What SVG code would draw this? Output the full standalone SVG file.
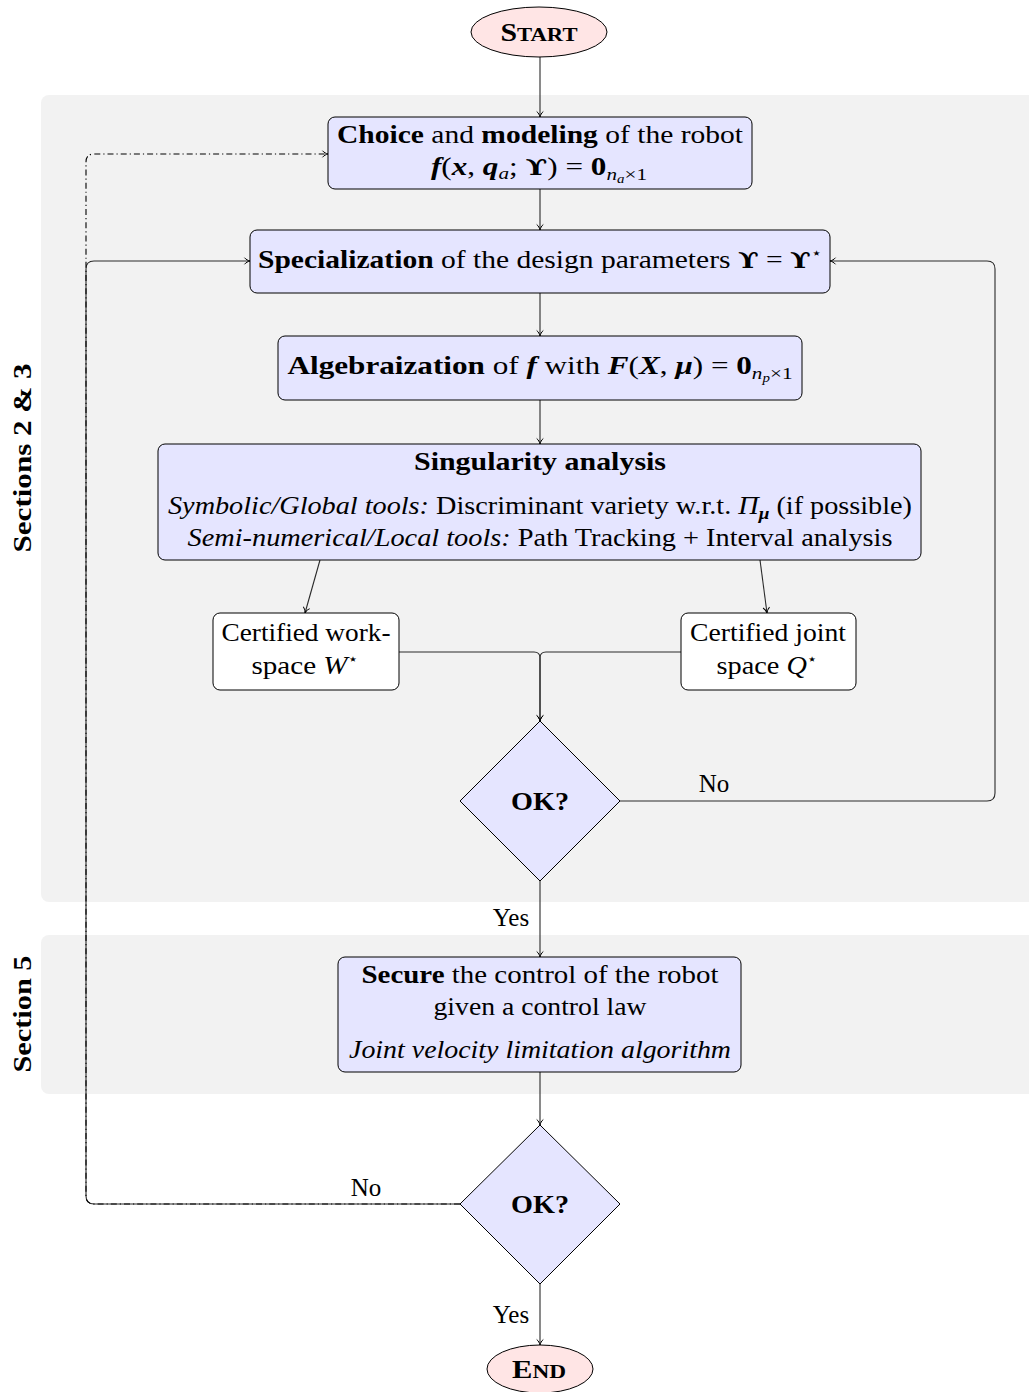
<svg xmlns="http://www.w3.org/2000/svg" width="1029" height="1392" viewBox="0 0 1029 1392">
<style>
.t{font-family:"Liberation Serif","DejaVu Serif",serif;font-size:25px;fill:#000}
.b{font-weight:bold}
.i{font-style:italic}
.bi{font-weight:bold;font-style:italic}
.ups{font-family:"DejaVu Serif",serif;font-weight:bold;font-size:23px}
.star{font-family:"DejaVu Sans",sans-serif;font-size:15px}
.box{fill:#e5e5ff;stroke:#000;stroke-width:1}
.wbox{fill:#ffffff;stroke:#000;stroke-width:1}
.term{fill:#ffe5e5;stroke:#000;stroke-width:1}
.band{fill:#f2f2f2}
.conn{fill:none;stroke:#2a2a2a;stroke-width:1.1}
.dd{fill:none;stroke:#000;stroke-width:1.1;stroke-dasharray:6 3 1.2 3}
</style>
<defs>
<marker id="ah" viewBox="-7 -5 8 10" markerWidth="8" markerHeight="10" refX="0" refY="0" orient="auto" markerUnits="userSpaceOnUse">
<path d="M-5.5,-3.3 C-4.2,-1.6 -1.8,-0.4 0,0 C-1.8,0.4 -4.2,1.6 -5.5,3.3" fill="none" stroke="#000" stroke-width="1"/>
</marker>
</defs>

<g id="bands">
<rect class="band" x="41" y="95" width="1000" height="807" rx="8"/>
<rect class="band" x="41" y="935" width="1000" height="159" rx="8"/>
<text class="t b" transform="translate(31,458) rotate(-90)" text-anchor="middle" textLength="189" lengthAdjust="spacingAndGlyphs">Sections 2 &amp; 3</text>
<text class="t b" transform="translate(31,1014) rotate(-90)" text-anchor="middle" textLength="117" lengthAdjust="spacingAndGlyphs">Section 5</text>
</g>

<g id="connectors">
<path class="conn" d="M540,57 V117" marker-end="url(#ah)"/>
<path class="conn" d="M540,189 V230" marker-end="url(#ah)"/>
<path class="conn" d="M540,293 V336" marker-end="url(#ah)"/>
<path class="conn" d="M540,400 V444" marker-end="url(#ah)"/>
<path class="conn" d="M320,560 L305,613" marker-end="url(#ah)"/>
<path class="conn" d="M760,560 L767,613" marker-end="url(#ah)"/>
<path class="conn" d="M399,652 H534 Q540,652 540,658 V721" marker-end="url(#ah)"/>
<path class="conn" d="M681,652 H546 Q540,652 540,658 V721" marker-end="url(#ah)"/>
<path class="conn" d="M620,801 H987 Q995,801 995,793 V269 Q995,261 987,261 H830" marker-end="url(#ah)"/>
<path class="conn" d="M540,881 V957" marker-end="url(#ah)"/>
<path class="conn" d="M540,1072 V1125" marker-end="url(#ah)"/>
<path class="conn" d="M460,1204 H94 Q86,1204 86,1196 V269 Q86,261 94,261 H250" marker-end="url(#ah)"/>
<path class="dd" d="M460,1204 H94 Q86,1204 86,1196 V162 Q86,154 94,154 H328" marker-end="url(#ah)"/>
<path class="conn" d="M540,1284 V1345" marker-end="url(#ah)"/>
<text class="t" x="714" y="792" text-anchor="middle">No</text>
<text class="t" x="511" y="926" text-anchor="middle">Yes</text>
<text class="t" x="366" y="1196" text-anchor="middle">No</text>
<text class="t" x="511" y="1323" text-anchor="middle">Yes</text>
</g>

<g id="start">
<ellipse class="term" cx="539" cy="32" rx="68" ry="25"/>
<text class="t b" x="539" y="41" text-anchor="middle" textLength="77" lengthAdjust="spacingAndGlyphs">S<tspan font-size="19">TART</tspan></text>
</g>

<g id="choice">
<rect class="box" x="328" y="117" width="424" height="72" rx="7"/>
<text class="t" x="540" y="143" text-anchor="middle" textLength="406" lengthAdjust="spacingAndGlyphs"><tspan class="b">Choice</tspan> and <tspan class="b">modeling</tspan> of the robot</text>
<text class="t" x="539" y="175" text-anchor="middle" textLength="216" lengthAdjust="spacingAndGlyphs"><tspan class="bi">f</tspan>(<tspan class="bi">x</tspan>, <tspan class="bi">q</tspan><tspan class="i" font-size="17" dy="4">a</tspan><tspan dy="-4">; </tspan><tspan class="ups">ϒ</tspan>) = <tspan class="b">0</tspan><tspan font-size="17" dy="5"><tspan class="i">n</tspan><tspan class="i" font-size="12" dy="3">a</tspan><tspan dy="-3">×1</tspan></tspan></text>
</g>

<g id="specialization">
<rect class="box" x="250" y="230" width="580" height="63" rx="7"/>
<text class="t" x="540" y="268" text-anchor="middle" textLength="564" lengthAdjust="spacingAndGlyphs"><tspan class="b">Specialization</tspan> of the design parameters <tspan class="ups">ϒ</tspan> = <tspan class="ups">ϒ</tspan><tspan class="star" dy="-10">⋆</tspan></text>
</g>

<g id="algebraization">
<rect class="box" x="278" y="336" width="524" height="64" rx="7"/>
<text class="t" x="540" y="374" text-anchor="middle" textLength="505" lengthAdjust="spacingAndGlyphs"><tspan class="b">Algebraization</tspan> of <tspan class="bi">f</tspan> with <tspan class="bi">F</tspan>(<tspan class="bi">X</tspan>, <tspan class="bi">μ</tspan>) = <tspan class="b">0</tspan><tspan font-size="17" dy="5"><tspan class="i">n</tspan><tspan class="i" font-size="12" dy="3">p</tspan><tspan dy="-3">×1</tspan></tspan></text>
</g>

<g id="singularity">
<rect class="box" x="158" y="444" width="763" height="116" rx="7"/>
<text class="t b" x="540" y="470" text-anchor="middle" textLength="252" lengthAdjust="spacingAndGlyphs">Singularity analysis</text>
<text class="t" x="540" y="514" text-anchor="middle" textLength="744" lengthAdjust="spacingAndGlyphs"><tspan class="i">Symbolic/Global tools:</tspan> Discriminant variety w.r.t. <tspan class="i">Π</tspan><tspan class="bi" font-size="17" dy="5">μ</tspan><tspan dy="-5"> (if possible)</tspan></text>
<text class="t" x="540" y="546" text-anchor="middle" textLength="705" lengthAdjust="spacingAndGlyphs"><tspan class="i">Semi-numerical/Local tools:</tspan> Path Tracking + Interval analysis</text>
</g>

<g id="workspace">
<rect class="wbox" x="213" y="613" width="186" height="77" rx="7"/>
<text class="t" x="306" y="641" text-anchor="middle" textLength="169" lengthAdjust="spacingAndGlyphs">Certified work-</text>
<text class="t" x="305" y="674" text-anchor="middle" textLength="107" lengthAdjust="spacingAndGlyphs">space <tspan class="i">W</tspan><tspan class="star" dy="-10">⋆</tspan></text>
</g>

<g id="jointspace">
<rect class="wbox" x="681" y="613" width="175" height="77" rx="7"/>
<text class="t" x="768" y="641" text-anchor="middle" textLength="156" lengthAdjust="spacingAndGlyphs">Certified joint</text>
<text class="t" x="767" y="674" text-anchor="middle" textLength="101" lengthAdjust="spacingAndGlyphs">space <tspan class="i">Q</tspan><tspan class="star" dy="-10">⋆</tspan></text>
</g>

<g id="ok1">
<polygon class="box" points="540,721 620,801 540,881 460,801"/>
<text class="t b" x="540" y="810" text-anchor="middle" textLength="58" lengthAdjust="spacingAndGlyphs">OK?</text>
</g>

<g id="secure">
<rect class="box" x="338" y="957" width="403" height="115" rx="7"/>
<text class="t" x="540" y="983" text-anchor="middle" textLength="357" lengthAdjust="spacingAndGlyphs"><tspan class="b">Secure</tspan> the control of the robot</text>
<text class="t" x="540" y="1015" text-anchor="middle" textLength="213" lengthAdjust="spacingAndGlyphs">given a control law</text>
<text class="t i" x="540" y="1058" text-anchor="middle" textLength="382" lengthAdjust="spacingAndGlyphs">Joint velocity limitation algorithm</text>
</g>

<g id="ok2">
<polygon class="box" points="540,1125 620,1204 540,1284 460,1204"/>
<text class="t b" x="540" y="1213" text-anchor="middle" textLength="58" lengthAdjust="spacingAndGlyphs">OK?</text>
</g>

<g id="end">
<ellipse class="term" cx="540" cy="1369" rx="53" ry="24"/>
<text class="t b" x="539" y="1378" text-anchor="middle" textLength="54" lengthAdjust="spacingAndGlyphs">E<tspan font-size="19">ND</tspan></text>
</g>
</svg>
